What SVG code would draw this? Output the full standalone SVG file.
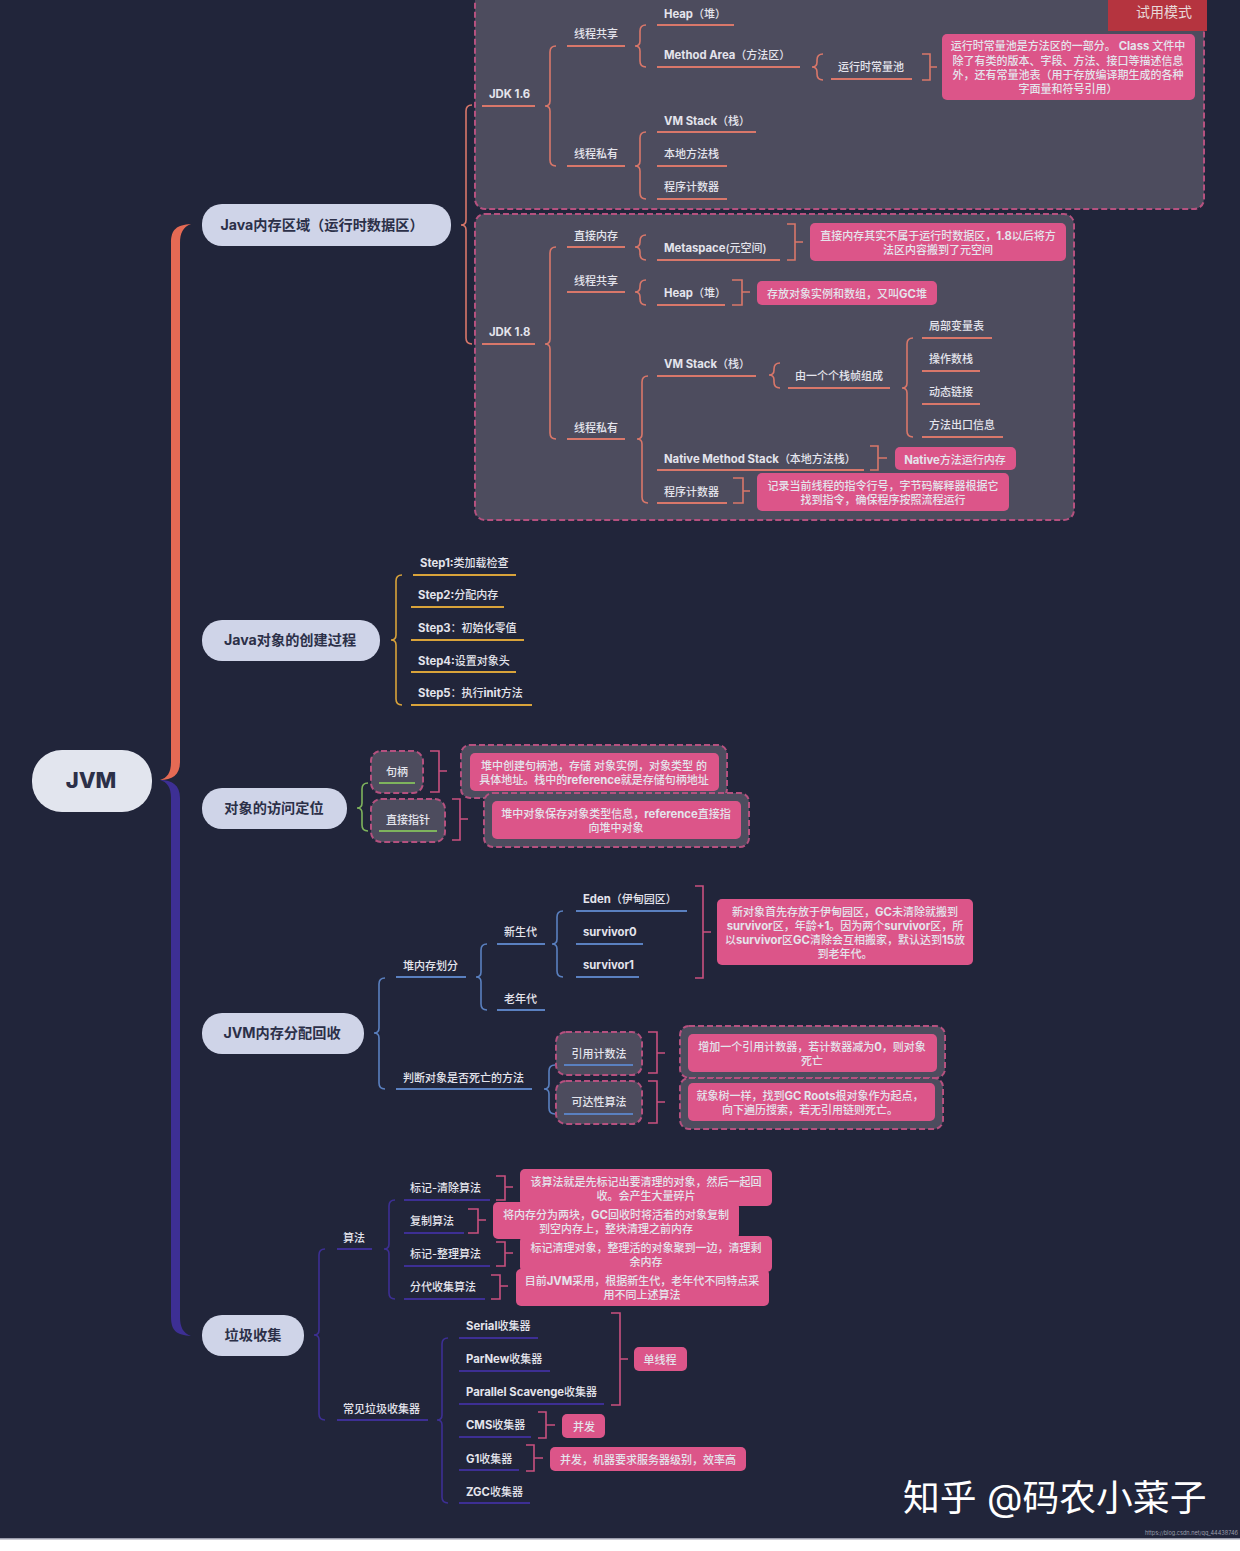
<svg xmlns="http://www.w3.org/2000/svg" width="1240" height="1551" viewBox="0 0 1240 1551">
<style>
text{font-family:"Inter","Noto Sans CJK SC","Noto Sans",sans-serif;font-size:11px;font-weight:500;fill:#e4e4ec;dominant-baseline:central;transform:translateY(.7px)}
.m{text-anchor:middle}
.e{font-weight:700;font-size:11.3px}
.l1{font-size:14.2px;font-weight:700;fill:#2c3048;text-anchor:middle;transform:translateY(-.5px)}
.r{fill:#dc5589;stroke:none}
.p{fill:#4d4c5e;stroke:#b5517f;stroke-width:2;stroke-dasharray:6 3}
.n1{fill:#cfd4e8}
.u{stroke-width:2;fill:none}
.o{stroke:#d9776a}.y{stroke:#d9a33a}.g{stroke:#7eb35d}.b{stroke:#5a80c0}.v{stroke:#3d2f94}.k{stroke:#c9507f}
#connectors path{fill:none;stroke-width:1.6}
#connectors path.t{stroke:none}
</style>
<rect width="1240" height="1551" fill="#ffffff"/>
<rect width="1240" height="1539" fill="#21253a"/>
<rect y="1538" width="1240" height="1.5" fill="#9a9cab"/>

<g id="panel-jdk16"><rect class="p" x="475" y="-10" width="729" height="219" rx="10"/></g>
<g id="panel-jdk18"><rect class="p" x="475" y="214" width="599" height="306" rx="10"/></g>

<g id="connectors">
<path class="t" style="fill:#e56a54" d="M191 224C177 225 171 229 171 243V762C171 773 167 778 160 780C172 780 180 775 180 762V243C180 233 183 227 191 224Z"/>
<path class="t" style="fill:#3d2f94" d="M191 1336C177 1335 171 1331 171 1317V798C171 787 167 782 160 780C172 780 180 785 180 798V1317C180 1327 183 1333 191 1336Z"/>
<g class="o">
<path d="M472 105Q466 105 466 111V220Q466 225 461 225Q466 225 466 230V338Q466 344 472 344"/>
<path d="M556 46Q550 46 550 52V101Q550 106 545 106Q550 106 550 111V160Q550 166 556 166"/>
<path d="M646 25Q640 25 640 31V41Q640 46 635 46Q640 46 640 51V61Q640 67 646 67"/>
<path d="M823 54Q817 54 817 60V62Q817 67 812 67Q817 67 817 72V74Q817 80 823 80"/>
<path d="M646 132Q640 132 640 138V161Q640 166 635 166Q640 166 640 171V193Q640 199 646 199"/>
<path d="M556 247Q550 247 550 253V339Q550 344 545 344Q550 344 550 349V433Q550 439 556 439"/>
<path d="M646 235Q640 235 640 241V242Q640 247 635 247Q640 247 640 252V254Q640 260 646 260"/>
<path d="M646 280Q640 280 640 286V287Q640 292 635 292Q640 292 640 297V299Q640 305 646 305"/>
<path d="M648 376Q642 376 642 382V434Q642 439 637 439Q642 439 642 444V497Q642 503 648 503"/>
<path d="M780 363Q774 363 774 369V370Q774 375 769 375Q774 375 774 380V382Q774 388 780 388"/>
<path d="M913 338Q907 338 907 344V383Q907 388 902 388Q907 388 907 393V431Q907 437 913 437"/>
<path d="M922 54H930V80H922M930 67H937"/>
<path d="M787 224H795V260H787M795 242H803"/>
<path d="M732 280H742V305H732M742 292H750"/>
<path d="M870 446H878V470H870M878 458H887"/>
<path d="M733 478H743V503H733M743 491H750"/>
</g>
<g class="y"><path d="M402 575Q396 575 396 581V635Q396 640 391 640Q396 640 396 645V699Q396 705 402 705"/></g>
<g class="g"><path d="M368 783Q362 783 362 789V803Q362 808 357 808Q362 808 362 813V825Q362 831 368 831"/></g>
<g class="k">
<path d="M430 751H439V792H430M439 771H447"/>
<path d="M452 799H460V840H452M460 819H468"/>
<path d="M695 886H703V978H695M703 932H711"/>
<path d="M648 1032H657V1073H648M657 1053H665"/>
<path d="M648 1081H657V1123H648M657 1102H665"/>
<path d="M496 1176H505V1200H496M505 1187H513"/>
<path d="M468 1209H478V1233H468M478 1220H486"/>
<path d="M496 1242H505V1266H496M505 1253H513"/>
<path d="M491 1275H500V1299H491M500 1286H508"/>
<path d="M611 1313H620V1405H611M620 1359H628"/>
<path d="M538 1412H546V1438H538M546 1425H555"/>
<path d="M526 1445H534V1471H526M534 1458H543"/>
</g>
<g class="b">
<path d="M385 978Q379 978 379 984V1028Q379 1033 374 1033Q379 1033 379 1038V1083Q379 1089 385 1089"/>
<path d="M487 944Q481 944 481 950V972Q481 977 476 977Q481 977 481 982V1004Q481 1010 487 1010"/>
<path d="M563 911Q557 911 557 917V939Q557 944 552 944Q557 944 557 949V971Q557 977 563 977"/>
<path d="M555 1065Q549 1065 549 1071V1084Q549 1089 544 1089Q549 1089 549 1094V1108Q549 1114 555 1114"/>
</g>
<g class="v">
<path d="M325 1249Q319 1249 319 1255V1330Q319 1335 314 1335Q319 1335 319 1340V1414Q319 1420 325 1420"/>
<path d="M395 1200Q389 1200 389 1206V1244Q389 1249 384 1249Q389 1249 389 1254V1293Q389 1299 395 1299"/>
<path d="M448 1338Q442 1338 442 1344V1415Q442 1420 437 1420Q442 1420 442 1425V1497Q442 1503 448 1503"/>
</g>
</g>

<g id="root"><rect x="32" y="750" width="120" height="62" rx="30" fill="#e2e5ee"/><text x="91" y="779" class="m" style="font-size:22px;font-weight:800;fill:#2c3048">JVM</text></g>
<g id="java-memory"><rect class="n1" x="202" y="204" width="249" height="42" rx="20"/><text x="322" y="225" class="l1">Java内存区域（运行时数据区）</text></g>
<g id="java-create"><rect class="n1" x="202" y="620" width="178" height="41" rx="20"/><text x="290" y="640" class="l1">Java对象的创建过程</text></g>
<g id="access"><rect class="n1" x="202" y="788" width="145" height="41" rx="20"/><text x="274" y="808" class="l1">对象的访问定位</text></g>
<g id="alloc"><rect class="n1" x="202" y="1013" width="162" height="41" rx="20"/><text x="282" y="1033" class="l1">JVM内存分配回收</text></g>
<g id="gc"><rect class="n1" x="202" y="1315" width="102" height="41" rx="20"/><text x="253" y="1335" class="l1">垃圾收集</text></g>

<g id="n16"><text x="489" y="93" class="e">JDK 1.6</text><path class="u o" d="M482 106H535"/></g>
<g id="n16-shared"><text x="574" y="33">线程共享</text><path class="u o" d="M567 46H625"/></g>
<g id="n16-private"><text x="574" y="153">线程私有</text><path class="u o" d="M567 166H625"/></g>
<g id="n16-heap"><text x="664" y="13"><tspan class="e">Heap</tspan>（堆）</text><path class="u o" d="M657 25H734"/></g>
<g id="n16-method"><text x="664" y="54"><tspan class="e">Method Area</tspan>（方法区）</text><path class="u o" d="M657 67H800"/></g>
<g id="n16-pool"><text x="838" y="66">运行时常量池</text><path class="u o" d="M831 79H912"/></g>
<g id="n16-note"><rect class="r" x="942" y="34" width="253" height="66" rx="5"/><text class="m" x="1068" y="45">运行时常量池是方法区的一部分。 <tspan class="e">Class</tspan> 文件中</text><text class="m" x="1068" y="60">除了有类的版本、字段、方法、接口等描述信息</text><text class="m" x="1068" y="74">外，还有常量池表（用于存放编译期生成的各种</text><text class="m" x="1068" y="88">字面量和符号引用）</text></g>
<g id="n16-vm"><text x="664" y="120"><tspan class="e">VM Stack</tspan>（栈）</text><path class="u o" d="M657 132H756"/></g>
<g id="n16-native"><text x="664" y="153">本地方法栈</text><path class="u o" d="M657 166H727"/></g>
<g id="n16-pc"><text x="664" y="186">程序计数器</text><path class="u o" d="M657 199H727"/></g>
<g id="trial"><rect x="1108" y="0" width="99" height="31" fill="#b5343f"/><text class="m" x="1164" y="11" style="font-size:14px;font-weight:400;fill:#e8d8d8">试用模式</text></g>

<g id="n18"><text x="489" y="331" class="e">JDK 1.8</text><path class="u o" d="M482 344H535"/></g>
<g id="n18-direct"><text x="574" y="235">直接内存</text><path class="u o" d="M567 247H625"/></g>
<g id="n18-shared"><text x="574" y="280">线程共享</text><path class="u o" d="M567 292H625"/></g>
<g id="n18-private"><text x="574" y="427">线程私有</text><path class="u o" d="M567 439H625"/></g>
<g id="n18-meta"><text x="664" y="247"><tspan class="e">Metaspace</tspan>(元空间)</text><path class="u o" d="M657 260H780"/></g>
<g id="n18-meta-note"><rect class="r" x="810" y="223" width="256" height="38" rx="5"/><text class="m" x="938" y="235">直接内存其实不属于运行时数据区，<tspan class="e">1.8</tspan>以后将方</text><text class="m" x="938" y="249">法区内容搬到了元空间</text></g>
<g id="n18-heap"><text x="664" y="292"><tspan class="e">Heap</tspan>（堆）</text><path class="u o" d="M657 305H725"/></g>
<g id="n18-heap-note"><rect class="r" x="757" y="281" width="180" height="24" rx="5"/><text class="m" x="847" y="293">存放对象实例和数组，又叫<tspan class="e">GC</tspan>堆</text></g>
<g id="n18-vm"><text x="664" y="363"><tspan class="e">VM Stack</tspan>（栈）</text><path class="u o" d="M657 376H756"/></g>
<g id="n18-frames"><text x="795" y="375">由一个个栈帧组成</text><path class="u o" d="M788 388H890"/></g>
<g id="n18-locals"><text x="929" y="325">局部变量表</text><path class="u o" d="M922 338H992"/></g>
<g id="n18-operand"><text x="929" y="358">操作数栈</text><path class="u o" d="M922 371H980"/></g>
<g id="n18-link"><text x="929" y="391">动态链接</text><path class="u o" d="M922 404H980"/></g>
<g id="n18-exit"><text x="929" y="424">方法出口信息</text><path class="u o" d="M922 437H1003"/></g>
<g id="n18-native"><text x="664" y="458"><tspan class="e">Native Method Stack</tspan>（本地方法栈）</text><path class="u o" d="M657 470H864"/></g>
<g id="n18-native-note"><rect class="r" x="895" y="447" width="121" height="23" rx="5"/><text class="m" x="955" y="459"><tspan class="e">Native</tspan>方法运行内存</text></g>
<g id="n18-pc"><text x="664" y="491">程序计数器</text><path class="u o" d="M657 503H727"/></g>
<g id="n18-pc-note"><rect class="r" x="757" y="473" width="252" height="38" rx="5"/><text class="m" x="883" y="485">记录当前线程的指令行号，字节码解释器根据它</text><text class="m" x="883" y="499">找到指令，确保程序按照流程运行</text></g>

<g id="s1"><text x="420" y="562"><tspan class="e">Step1:</tspan>类加载检查</text><path class="u y" d="M413 575H516"/></g>
<g id="s2"><text x="418" y="594"><tspan class="e">Step2:</tspan>分配内存</text><path class="u y" d="M411 607H504"/></g>
<g id="s3"><text x="418" y="627"><tspan class="e">Step3</tspan>：初始化零值</text><path class="u y" d="M411 640H524"/></g>
<g id="s4"><text x="418" y="660"><tspan class="e">Step4:</tspan>设置对象头</text><path class="u y" d="M411 672H516"/></g>
<g id="s5"><text x="418" y="692"><tspan class="e">Step5</tspan>：执行<tspan class="e">init</tspan>方法</text><path class="u y" d="M411 705H532"/></g>

<g id="handle-note"><rect class="p" x="461" y="745" width="266" height="53" rx="9"/><rect class="r" x="470" y="753" width="249" height="38" rx="5"/><text class="m" x="594" y="765">堆中创建句柄池，存储 对象实例，对象类型 的</text><text class="m" x="594" y="779">具体地址。栈中的<tspan class="e">reference</tspan>就是存储句柄地址</text></g>
<g id="direct-note"><rect class="p" x="484" y="793" width="265" height="54" rx="9"/><rect class="r" x="492" y="801" width="249" height="38" rx="5"/><text class="m" x="616" y="813">堆中对象保存对象类型信息，<tspan class="e">reference</tspan>直接指</text><text class="m" x="616" y="827">向堆中对象</text></g>
<g id="handle"><rect class="p" x="371" y="751" width="52" height="42" rx="10"/><text class="m" x="397" y="771">句柄</text><path class="u g" d="M379 783H415"/></g>
<g id="direct"><rect class="p" x="371" y="799" width="74" height="43" rx="10"/><text class="m" x="408" y="819">直接指针</text><path class="u g" d="M379 831H437"/></g>

<g id="heap-div"><text x="403" y="965">堆内存划分</text><path class="u b" d="M396 977H466"/></g>
<g id="death"><text x="403" y="1077">判断对象是否死亡的方法</text><path class="u b" d="M396 1089H532"/></g>
<g id="young"><text x="504" y="931">新生代</text><path class="u b" d="M497 944H545"/></g>
<g id="old"><text x="504" y="998">老年代</text><path class="u b" d="M497 1010H545"/></g>
<g id="eden"><text x="583" y="898"><tspan class="e">Eden</tspan>（伊甸园区）</text><path class="u b" d="M576 911H687"/></g>
<g id="s0"><text x="583" y="931" class="e">survivor0</text><path class="u b" d="M576 944H643"/></g>
<g id="s1b"><text x="583" y="964" class="e">survivor1</text><path class="u b" d="M576 977H639"/></g>
<g id="young-note"><rect class="r" x="717" y="899" width="256" height="66" rx="5"/><text class="m" x="845" y="911">新对象首先存放于伊甸园区，<tspan class="e">GC</tspan>未清除就搬到</text><text class="m" x="845" y="925"><tspan class="e">survivor</tspan>区，年龄<tspan class="e">+1</tspan>。因为两个<tspan class="e">survivor</tspan>区，所</text><text class="m" x="845" y="939">以<tspan class="e">survivor</tspan>区<tspan class="e">GC</tspan>清除会互相搬家，默认达到<tspan class="e">15</tspan>放</text><text class="m" x="845" y="953">到老年代。</text></g>
<g id="rc-note"><rect class="p" x="680" y="1026" width="265" height="52" rx="9"/><rect class="r" x="688" y="1034" width="249" height="38" rx="5"/><text class="m" x="812" y="1046">增加一个引用计数器，若计数器减为<tspan class="e">0</tspan>，则对象</text><text class="m" x="812" y="1060">死亡</text></g>
<g id="reach-note"><rect class="p" x="680" y="1078" width="263" height="51" rx="9"/><rect class="r" x="688" y="1083" width="247" height="38" rx="5"/><text class="m" x="810" y="1095">就象树一样，找到<tspan class="e">GC Roots</tspan>根对象作为起点，</text><text class="m" x="810" y="1109">向下遍历搜索，若无引用链则死亡。</text></g>
<g id="rc"><rect class="p" x="556" y="1032" width="86" height="43" rx="10"/><text class="m" x="599" y="1053">引用计数法</text><path class="u b" d="M564 1065H633"/></g>
<g id="reach"><rect class="p" x="556" y="1081" width="86" height="43" rx="10"/><text class="m" x="599" y="1101">可达性算法</text><path class="u b" d="M564 1114H633"/></g>

<g id="algo"><text x="343" y="1237">算法</text><path class="u v" d="M337 1249H372"/></g>
<g id="collectors"><text x="343" y="1408">常见垃圾收集器</text><path class="u v" d="M337 1420H428"/></g>
<g id="a1"><text x="410" y="1187">标记-清除算法</text><path class="u v" d="M404 1200H490"/></g>
<g id="a2"><text x="410" y="1220">复制算法</text><path class="u v" d="M404 1233H464"/></g>
<g id="a3"><text x="410" y="1253">标记-整理算法</text><path class="u v" d="M404 1266H490"/></g>
<g id="a4"><text x="410" y="1286">分代收集算法</text><path class="u v" d="M404 1299H485"/></g>
<g id="a1-note"><rect class="r" x="520" y="1169" width="252" height="37" rx="5"/><text class="m" x="646" y="1181">该算法就是先标记出要清理的对象，然后一起回</text><text class="m" x="646" y="1195">收。会产生大量碎片</text></g>
<g id="a3-note"><rect class="r" x="520" y="1236" width="252" height="36" rx="5"/><text class="m" x="646" y="1247">标记清理对象，整理活的对象聚到一边，清理剩</text><text class="m" x="646" y="1261">余内存</text></g>
<g id="a2-note"><rect class="r" x="493" y="1202" width="246" height="37" rx="5"/><text class="m" x="616" y="1214">将内存分为两块，<tspan class="e">GC</tspan>回收时将活着的对象复制</text><text class="m" x="616" y="1228">到空内存上，整块清理之前内存</text></g>
<g id="a4-note"><rect class="r" x="516" y="1269" width="253" height="37" rx="5"/><text class="m" x="642" y="1280">目前<tspan class="e">JVM</tspan>采用，根据新生代，老年代不同特点采</text><text class="m" x="642" y="1294">用不同上述算法</text></g>

<g id="c1"><text x="466" y="1325"><tspan class="e">Serial</tspan>收集器</text><path class="u v" d="M459 1338H538"/></g>
<g id="c2"><text x="466" y="1358"><tspan class="e">ParNew</tspan>收集器</text><path class="u v" d="M459 1371H550"/></g>
<g id="c3"><text x="466" y="1391"><tspan class="e">Parallel Scavenge</tspan>收集器</text><path class="u v" d="M459 1404H604"/></g>
<g id="c4"><text x="466" y="1424"><tspan class="e">CMS</tspan>收集器</text><path class="u v" d="M459 1437H531"/></g>
<g id="c5"><text x="466" y="1458"><tspan class="e">G1</tspan>收集器</text><path class="u v" d="M459 1470H519"/></g>
<g id="c6"><text x="466" y="1491"><tspan class="e">ZGC</tspan>收集器</text><path class="u v" d="M459 1503H530"/></g>
<g id="single"><rect class="r" x="634" y="1347" width="53" height="24" rx="5"/><text class="m" x="660" y="1359">单线程</text></g>
<g id="conc"><rect class="r" x="562" y="1414" width="43" height="24" rx="5"/><text class="m" x="584" y="1426">并发</text></g>
<g id="g1-note"><rect class="r" x="550" y="1447" width="196" height="24" rx="5"/><text class="m" x="648" y="1459">并发，机器要求服务器级别，效率高</text></g>

<text x="903" y="1497" style="font-size:36.8px;font-weight:400;fill:#fff">知乎 @码农小菜子</text>
<text x="1145" y="1532" textLength="93" lengthAdjust="spacingAndGlyphs" style="font-size:5.5px;fill:#9a9cab;font-weight:400">https://blog.csdn.net/qq_44438746</text>
</svg>
